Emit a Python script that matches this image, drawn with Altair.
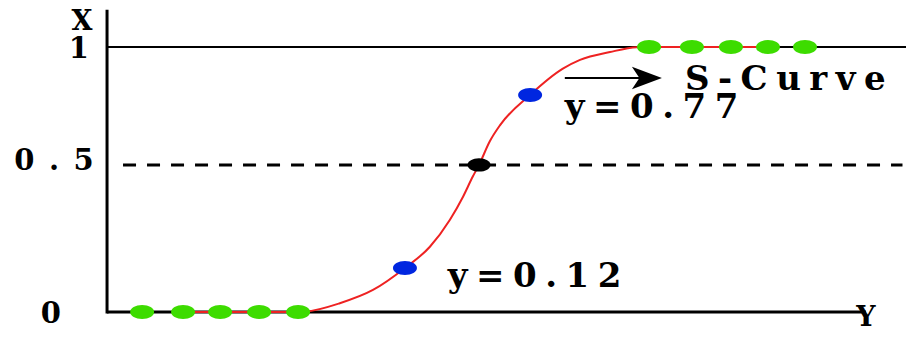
import altair as alt
import pandas as pd

# ---- data ----
X_MIN, X_MAX = -2.54, 20.49
Y_MIN, Y_MAX = -0.068, 1.147

curve_x = [1.95, 4.95, 5.08, 5.97, 6.82, 7.64, 8.28, 8.79, 9.13, 9.38, 9.54, 9.82, 10.08, 10.85, 11.69, 12.13, 12.90, 13.59, 13.92, 16.95]
curve_y = [0.0, 0.0, 0.001, 0.033, 0.083, 0.166, 0.246, 0.347, 0.435, 0.511, 0.555, 0.645, 0.705, 0.819, 0.918, 0.951, 0.981, 0.999, 1.0, 1.0]

low_dots_x = [0.9, 1.95, 2.9, 3.9, 4.9]
high_dots_x = [13.9, 15.0, 16.0, 16.95, 17.9]
blue_x = [7.64, 10.85]
blue_y = [0.166, 0.819]
mid_x = [9.54]
mid_y = [0.555]

tick_labels = ["0", "0.5", "1"]
tick_x = [-1.44, -1.36, -0.72]
tick_y = [-0.042, 0.536, 0.958]

annot_text = ["y=0.12", "y=0.77", "S-Curve"]
annot_x = [8.74, 11.74, 14.82]
annot_y = [0.094, 0.732, 0.838]

axis_names = ["X", "Y"]
axis_name_x = [-0.64, 19.46]
axis_name_y = [1.064, -0.052]

arrow_x = [11.74, 14.23]
arrow_y = [0.883, 0.883]

dash_level = 0.555
xaxis_end = 19.46
yaxis_top = 1.14
dash_start, dash_end = 0.41, 20.4

FONT = "DejaVu Serif"


def spaced(s, sp):
    return sp.join(list(s))


xs = alt.Scale(domain=[X_MIN, X_MAX], nice=False, zero=False)
ys = alt.Scale(domain=[Y_MIN, Y_MAX], nice=False, zero=False)


def X(f="x"):
    return alt.X(f"{f}:Q", scale=xs, axis=None)


def Y(f="y"):
    return alt.Y(f"{f}:Q", scale=ys, axis=None)


ELLIPSE = "M-1,0 A1,0.58 0 1,1 1,0 A1,0.58 0 1,1 -1,0 Z"
ARROW = "M0,0 L-2,-0.75 L-1.5,0 L-2,0.75 Z"

# black lines
yaxis = alt.Chart(pd.DataFrame({"x": [0.0], "y": [-0.006], "y2": [yaxis_top]})).mark_rule(
    color="black", strokeWidth=3).encode(x=X(), y=Y(), y2="y2:Q")
xaxis = alt.Chart(pd.DataFrame({"x": [0.0], "x2": [xaxis_end], "y": [0.0]})).mark_rule(
    color="black", strokeWidth=3).encode(x=X(), x2="x2:Q", y=Y())
top_line = alt.Chart(pd.DataFrame({"x": [0.0], "x2": [X_MAX], "y": [1.0]})).mark_rule(
    color="black", strokeWidth=2).encode(x=X(), x2="x2:Q", y=Y())
dash_line = alt.Chart(pd.DataFrame({"x": [dash_start], "x2": [dash_end], "y": [dash_level]})).mark_rule(
    color="black", strokeWidth=3, strokeDash=[13, 11]).encode(x=X(), x2="x2:Q", y=Y())

curve = alt.Chart(pd.DataFrame({"x": curve_x, "y": curve_y})).mark_line(
    color="#ee2222", strokeWidth=2, interpolate="monotone").encode(x=X(), y=Y())

green = alt.Chart(pd.DataFrame({
    "x": low_dots_x + high_dots_x,
    "y": [0.0] * len(low_dots_x) + [1.0] * len(high_dots_x)})).mark_point(
    filled=True, color="#3ddc00", opacity=1, shape=ELLIPSE, size=576).encode(x=X(), y=Y())
blue = alt.Chart(pd.DataFrame({"x": blue_x, "y": blue_y})).mark_point(
    filled=True, color="#0026e0", opacity=1, shape=ELLIPSE, size=576).encode(x=X(), y=Y())
mid = alt.Chart(pd.DataFrame({"x": mid_x, "y": mid_y})).mark_point(
    filled=True, color="black", opacity=1, shape=ELLIPSE, size=530).encode(x=X(), y=Y())

arrow_line = alt.Chart(pd.DataFrame({"x": [arrow_x[0]], "x2": [arrow_x[1] - 0.4], "y": [arrow_y[0]]})).mark_rule(
    color="black", strokeWidth=2).encode(x=X(), x2="x2:Q", y=Y())
arrow_head = alt.Chart(pd.DataFrame({"x": [arrow_x[1]], "y": [arrow_y[1]]})).mark_point(
    filled=True, color="black", opacity=1, shape=ARROW, size=900).encode(x=X(), y=Y())

ticks = alt.Chart(pd.DataFrame({"x": tick_x, "y": tick_y,
                                "t": [spaced(t, "\u2002") for t in tick_labels]})).mark_text(
    font=FONT, fontSize=29, fontWeight="bold", align="center", baseline="alphabetic", color="black").encode(
    x=X(), y=Y(), text="t:N")
annots = alt.Chart(pd.DataFrame({"x": annot_x, "y": annot_y,
                                 "t": [spaced(t, "\u2005") for t in annot_text]})).mark_text(
    font=FONT, fontSize=34, fontWeight="bold", align="left", baseline="alphabetic", color="black").encode(
    x=X(), y=Y(), text="t:N")
names = alt.Chart(pd.DataFrame({"x": axis_name_x, "y": axis_name_y, "t": axis_names})).mark_text(
    font=FONT, fontSize=27, fontWeight="bold", align="center", baseline="alphabetic", color="black").encode(
    x=X(), y=Y(), text="t:N")

chart = alt.layer(
    top_line, dash_line, xaxis, yaxis, curve, green, blue, mid, arrow_line, arrow_head, ticks, annots, names
).properties(width=898, height=322, padding=0, autosize=alt.AutoSizeParams(type="none")).configure_view(
    stroke=None)

chart.save("out.html", embed_options={"renderer": "svg", "actions": False})
